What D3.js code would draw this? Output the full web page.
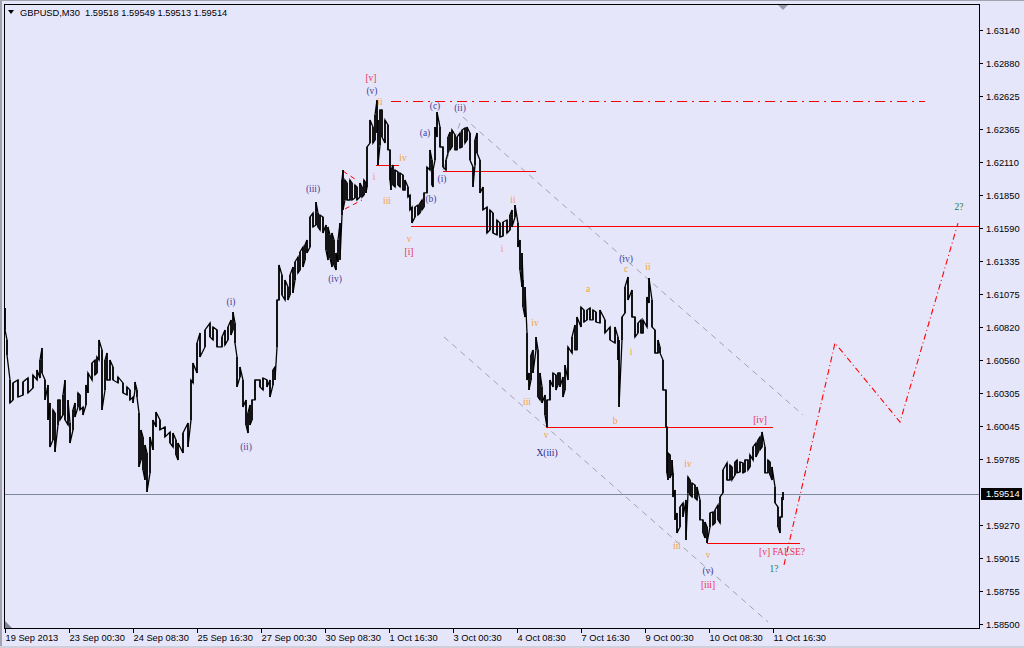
<!DOCTYPE html>
<html><head><meta charset="utf-8">
<script src="https://cdn.jsdelivr.net/npm/d3@7"></script>
<style>html,body{margin:0;padding:0;background:#E6E6FA;}svg{display:block}</style>
</head><body><svg id="c" width="1024" height="648"></svg>
<script>
// ---------- DATA ----------
const symbolTitle = "GBPUSD,M30";
const ohlc = [1.59518, 1.59549, 1.59513, 1.59514];
const lastPrice = 1.59514;

const bars = [
0,2,5,8,13,18,23,28,32,35,
37,40,43,45,48,50,53,55,58,60,
63,65,68,70,73,75,78,81,83,87,
90,92,94,97,100,102,105,108,113,118,
122,125,128,130,132,134,136,138,140,142,
145,148,151,155,160,165,168,171,173,178,
183,186,188,192,195,200,205,208,212,217,
220,223,226,228,230,232,235,238,241,243,
245,247,250,255,258,262,265,268,270,272,
274,277,280,283,285,288,290,293,295,298,
300,302,305,308,311,313,315,318,321,323,
325,327,329,331,333,335,337,338,340,342,
345,347,350,352,355,357,359,361,362,365,
368,370,372,373,375,377,380,383,385,386,
388,390,393,395,398,400,403,405,407,410,
413,415,417,419,422,425,427,428,430,432,
435,438,441,443,445,447,450,452,455,457,
460,462,465,468,470,472,475,478,482,485,
488,492,495,498,502,505,507,510,513,515,
517,518,520,522,524,526,528,531,533,535,
537,540,542,545,548,551,553,555,558,560,
563,567,570,572,576,579,582,585,588,591,
595,600,605,610,613,614,617,620,623,627,
630,633,636,638,642,644,647,650,653,655,
658,661,662,663,665,667,668,670,672,675,
678,681,683,685,687,690,692,695,698,700,
702,705,708,710,713,715,718,722,725,727,
730,732,735,738,740,743,745,748,751,753,
755,757,760,763,765,767,770,773,775,777,778];

const highs = [
1.60969,1.60719,1.60406,1.60383,1.60406,1.60391,1.60422,1.60445,1.60484,1.60562,
1.60656,1.60406,1.60367,1.60227,1.60172,1.60149,1.60250,1.60250,1.60289,1.60406,
1.60250,1.60070,1.60172,1.60227,1.60305,1.60289,1.60195,1.60367,1.60461,1.60539,
1.60562,1.60586,1.60719,1.60641,1.60562,1.60617,1.60562,1.60508,1.60430,1.60383,
1.60352,1.60328,1.60273,1.60391,1.60328,1.60149,1.60016,1.59961,1.59899,1.59836,
1.59961,1.60094,1.60156,1.60094,1.60039,1.60000,1.59992,1.59938,1.59914,1.59992,
1.60070,1.60406,1.60539,1.60695,1.60773,1.60797,1.60851,1.60820,1.60797,1.60742,
1.60797,1.60820,1.60875,1.60937,1.60851,1.60586,1.60508,1.60406,1.60250,1.60149,
1.60211,1.60250,1.60406,1.60406,1.60422,1.60406,1.60406,1.60484,1.60508,1.61031,
1.61304,1.61226,1.61187,1.61133,1.61226,1.61289,1.61328,1.61367,1.61406,1.61445,
1.61461,1.61500,1.61679,1.61711,1.61796,1.61711,1.61695,1.61679,1.61617,1.61601,
1.61539,1.61554,1.61500,1.61398,1.61500,1.61632,1.61968,1.62046,1.61968,1.61945,
1.61968,1.61945,1.61929,1.61914,1.61945,1.61914,1.61968,1.61945,1.62226,1.62437,
1.62382,1.62476,1.62593,1.62437,1.62515,1.62515,1.62437,1.62398,1.62203,1.62046,
1.62085,1.62046,1.62031,1.62023,1.62007,1.61968,1.61914,1.61851,1.61757,1.61757,
1.61773,1.61789,1.61812,1.61867,1.62070,1.62203,1.62124,1.62046,1.62382,1.62499,
1.62382,1.62226,1.62124,1.62304,1.62343,1.62359,1.62320,1.62304,1.62335,1.62359,
1.62374,1.62382,1.62335,1.62070,1.62281,1.62335,1.62124,1.61914,1.61757,1.61734,
1.61711,1.61656,1.61632,1.61640,1.61656,1.61695,1.61734,1.61773,1.61632,1.61500,
1.61398,1.61187,1.61133,1.60773,1.60461,1.60601,1.60641,1.60742,1.60641,1.60461,
1.60352,1.60289,1.60250,1.60406,1.60461,1.60445,1.60461,1.60461,1.60430,1.60523,
1.60664,1.60742,1.60836,1.60898,1.60976,1.60953,1.60953,1.60969,1.60953,1.60937,
1.60953,1.60875,1.60820,1.60820,1.60742,1.60719,1.60898,1.61133,1.61211,1.61109,
1.60898,1.60851,1.60875,1.60875,1.61054,1.61203,1.61031,1.60797,1.60719,1.60664,
1.60562,1.60328,1.60039,1.59836,1.59821,1.59781,1.59680,1.59547,1.59368,1.59414,
1.59446,1.59469,1.59649,1.59625,1.59602,1.59586,1.59571,1.59469,1.59313,1.59297,
1.59258,1.59368,1.59375,1.59391,1.59430,1.59492,1.59703,1.59758,1.59742,1.59727,
1.59766,1.59781,1.59766,1.59758,1.59781,1.59781,1.59821,1.59883,1.59914,1.59938,
1.59961,1.60000,1.59883,1.59781,1.59766,1.59727,1.59571,1.59414,1.59336,1.59492,1.59532];

const lows = [
1.60797,1.60601,1.60227,1.60250,1.60273,1.60289,1.60305,1.60344,1.60406,1.60422,
1.60461,1.60250,1.60094,1.59883,1.59938,1.59844,1.60055,1.60094,1.60133,1.60094,
1.60055,1.59914,1.60016,1.60117,1.60195,1.60172,1.60133,1.60211,1.60305,1.60406,
1.60445,1.60461,1.60562,1.60172,1.60328,1.60406,1.60406,1.60406,1.60383,1.60305,
1.60289,1.60250,1.60227,1.60328,1.60273,1.59727,1.59781,1.59703,1.59625,1.59532,
1.59680,1.59860,1.60039,1.60016,1.59961,1.59914,1.59883,1.59821,1.59781,1.59836,
1.59883,1.60094,1.60383,1.60461,1.60586,1.60664,1.60742,1.60719,1.60664,1.60664,
1.60680,1.60719,1.60758,1.60797,1.60695,1.60352,1.60430,1.60195,1.60055,1.59992,
1.60055,1.60094,1.60250,1.60352,1.60328,1.60352,1.60273,1.60367,1.60406,1.60664,
1.61031,1.61070,1.61031,1.61031,1.61070,1.61086,1.61187,1.61242,1.61265,1.61289,
1.61343,1.61398,1.61445,1.61601,1.61617,1.61601,1.61578,1.61554,1.61421,1.61343,
1.61359,1.61289,1.61304,1.61265,1.61328,1.61343,1.61695,1.61734,1.61812,1.61812,
1.61812,1.61812,1.61828,1.61812,1.61835,1.61835,1.61851,1.61867,1.61914,1.62257,
1.62257,1.62281,1.62335,1.62085,1.62241,1.62304,1.62257,1.62203,1.61968,1.61890,
1.61929,1.61914,1.61929,1.61914,1.61890,1.61890,1.61835,1.61734,1.61632,1.61679,
1.61695,1.61711,1.61734,1.61757,1.61867,1.62046,1.61929,1.61914,1.62124,1.62304,
1.62226,1.62070,1.62046,1.62179,1.62203,1.62226,1.62203,1.62203,1.62218,1.62226,
1.62257,1.62281,1.62124,1.61914,1.62085,1.62179,1.61867,1.61734,1.61554,1.61578,
1.61554,1.61539,1.61523,1.61531,1.61554,1.61578,1.61601,1.61679,1.61445,1.61265,
1.61133,1.60976,1.60898,1.60406,1.60328,1.60406,1.60461,1.60641,1.60273,1.60250,
1.60227,1.60133,1.60039,1.60250,1.60352,1.60328,1.60367,1.60352,1.60273,1.60328,
1.60406,1.60617,1.60641,1.60641,1.60820,1.60859,1.60875,1.60875,1.60875,1.60859,
1.60851,1.60773,1.60719,1.60695,1.60562,1.60195,1.60719,1.60930,1.61031,1.60898,
1.60742,1.60773,1.60773,1.60773,1.60820,1.61008,1.60820,1.60617,1.60617,1.60617,
1.60328,1.60039,1.59680,1.59625,1.59641,1.59680,1.59492,1.59313,1.59211,1.59258,
1.59336,1.59157,1.59524,1.59508,1.59492,1.59485,1.59469,1.59313,1.59211,1.59172,
1.59133,1.59258,1.59274,1.59289,1.59313,1.59289,1.59524,1.59625,1.59625,1.59625,
1.59664,1.59680,1.59688,1.59680,1.59688,1.59703,1.59727,1.59781,1.59805,1.59836,
1.59860,1.59883,1.59680,1.59680,1.59664,1.59625,1.59446,1.59258,1.59211,1.59336,1.59469];

const yTickValues = [1.63140,1.62880,1.62625,1.62365,1.62110,1.61850,1.61590,1.61335,1.61075,
  1.60820,1.60560,1.60305,1.60045,1.59785,1.59270,1.59015,1.58755,1.58500];
const xTickBars = [0,64,128,192,256,320,384,448,512,576,640,704,768];
const xTickLabels = ["19 Sep 2013","23 Sep 00:30","24 Sep 08:30","25 Sep 16:30","27 Sep 00:30",
  "30 Sep 08:30","1 Oct 16:30","3 Oct 00:30","4 Oct 08:30","7 Oct 16:30","9 Oct 00:30",
  "10 Oct 08:30","11 Oct 16:30"];

// horizontal levels (bar range, price)
const levels = [
  {from:386, to:920, price:1.62585, kind:"dashdot"},
  {from:406, to:974, price:1.61609, kind:"solid"},
  {from:371, to:394, price:1.62085, kind:"solid"},
  {from:438, to:531, price:1.62038, kind:"solid"},
  {from:541, to:768, price:1.60039, kind:"solid"},
  {from:702, to:795, price:1.59133, kind:"solid"}
];
// trend / channel lines
const channelLines = [
  {b1:458, p1:1.62460, b2:798, p2:1.60133},
  {b1:438, p1:1.62046, b2:455, p2:1.62413},
  {b1:439, p1:1.60742, b2:763, p2:1.58516}
];
const wedgeLines = [
  {b1:338, p1:1.62038, b2:353, p2:1.61960},
  {b1:340, p1:1.61742, b2:357, p2:1.61812}
];
// projected path
const projBars = [779, 830, 895, 953];
const projPrices = [1.58961, 1.60695, 1.60078, 1.61632];

// wave labels
const waveLabels = [
  {t:"(i)", b:226, p:1.61016, d:"minute"},
  {t:"(ii)", b:241, p:1.59883, d:"minute"},
  {t:"(iii)", b:308, p:1.61898, d:"minute"},
  {t:"(iv)", b:330, p:1.61195, d:"minute"},
  {t:"[v]", b:366, p:1.62765, d:"minor"},
  {t:"(v)", b:367, p:1.62663, d:"minute"},
  {t:"ii", b:375, p:1.62578, d:"minuette"},
  {t:"i", b:369, p:1.61992, d:"minuette"},
  {t:"iii", b:382, p:1.61804, d:"minuette"},
  {t:"iv", b:398, p:1.62140, d:"minuette"},
  {t:"v", b:404, p:1.61507, d:"minuette"},
  {t:"[i]", b:404, p:1.61406, d:"minor"},
  {t:"(a)", b:420, p:1.62335, d:"minute"},
  {t:"(b)", b:426, p:1.61820, d:"minute"},
  {t:"(c)", b:430, p:1.62546, d:"minute"},
  {t:"(i)", b:437, p:1.61976, d:"minute"},
  {t:"(ii)", b:455, p:1.62531, d:"minute"},
  {t:"ii", b:508, p:1.61812, d:"minuette"},
  {t:"i", b:497, p:1.61429, d:"minuette"},
  {t:"iv", b:530, p:1.60851, d:"minuette"},
  {t:"iii", b:522, p:1.60234, d:"minuette"},
  {t:"v", b:541, p:1.59977, d:"minuette"},
  {t:"X(iii)", b:542, p:1.59836, d:"x"},
  {t:"a", b:583, p:1.61117, d:"minuette"},
  {t:"b", b:610, p:1.60086, d:"minuette"},
  {t:"(iv)", b:621, p:1.61351, d:"minute"},
  {t:"c", b:621, p:1.61273, d:"minuette"},
  {t:"ii", b:643, p:1.61289, d:"minuette"},
  {t:"i", b:626, p:1.60625, d:"minuette"},
  {t:"[iv]", b:755, p:1.60094, d:"minor"},
  {t:"iv", b:683, p:1.59750, d:"minuette"},
  {t:"iii", b:672, p:1.59110, d:"minuette"},
  {t:"v", b:703, p:1.59039, d:"minuette"},
  {t:"(v)", b:703, p:1.58915, d:"minute"},
  {t:"[iii]", b:703, p:1.58805, d:"minor"},
  {t:"[v] FALSE?", b:777, p:1.59062, d:"minor"},
  {t:"1?", b:769, p:1.58930, d:"alt"},
  {t:"2?", b:954, p:1.61757, d:"alt"}
];

// ---------- DRAW ----------
const svg = d3.select("#c");
const BG = "#E6E6FA";
const plot = {l:4, t:4, r:979, b:628};
const x = d3.scaleLinear().domain([0, 974]).range([5, 979]);
const y = d3.scaleLinear().domain([1.58500, 1.63140]).range([624, 30]);
const sans = "'Liberation Sans', Arial, sans-serif";
const serif = "'Liberation Serif', 'Times New Roman', serif";
const waveColor = {minor:"#ec3050", minute:"#42429a", minuette:"#f5a23a", alt:"#1f7a3a", x:"#28288a"};

svg.append("rect").attr("width",1024).attr("height",648).attr("fill",BG);
// window frame
svg.append("rect").attr("x",0).attr("y",0).attr("width",2).attr("height",648).attr("fill","#a4a4b0");
svg.append("rect").attr("x",0).attr("y",0).attr("width",1024).attr("height",1).attr("fill","#a4a4b0");
svg.append("rect").attr("x",0).attr("y",646).attr("width",1024).attr("height",2).attr("fill","#d0d0dc");

svg.append("clipPath").attr("id","clip").append("rect")
  .attr("x",plot.l+1).attr("y",plot.t+1).attr("width",plot.r-plot.l-1).attr("height",plot.b-plot.t-1);
const g = svg.append("g").attr("clip-path","url(#clip)");

// current price line
g.append("line").attr("x1",plot.l).attr("x2",plot.r)
  .attr("y1",Math.round(y(lastPrice))+0.5).attr("y2",Math.round(y(lastPrice))+0.5)
  .attr("stroke","#7c889c").attr("stroke-width",1);

// channel lines
g.selectAll(".ch").data(channelLines).enter().append("line")
  .attr("x1",d=>x(d.b1)).attr("y1",d=>y(d.p1)).attr("x2",d=>x(d.b2)).attr("y2",d=>y(d.p2))
  .attr("stroke","#a2a2ae").attr("stroke-width",1).attr("stroke-dasharray","6,5");

// levels
g.selectAll(".lv").data(levels).enter().append("line")
  .attr("x1",d=>x(d.from)).attr("x2",d=>x(d.to))
  .attr("y1",d=>Math.round(y(d.price))+0.5).attr("y2",d=>Math.round(y(d.price))+0.5)
  .attr("stroke","#ff0000").attr("stroke-width",1)
  .attr("stroke-dasharray",d=>d.kind==="dashdot"?"10,5,2,5":null);

g.selectAll(".wd").data(wedgeLines).enter().append("line")
  .attr("x1",d=>x(d.b1)).attr("y1",d=>y(d.p1)).attr("x2",d=>x(d.b2)).attr("y2",d=>y(d.p2))
  .attr("stroke","#ff0000").attr("stroke-width",1).attr("stroke-dasharray","5,4");

// price trace
const pts = [];
bars.forEach((b,i)=>{
  const hi=[x(b),y(highs[i])], lo=[x(b),y(lows[i])];
  if(!pts.length){pts.push(hi,lo);return;}
  const last=pts[pts.length-1][1];
  if(Math.abs(last-hi[1])<Math.abs(last-lo[1])) pts.push(hi,lo); else pts.push(lo,hi);
});
g.append("path").attr("d",d3.line()(pts)).attr("fill","none")
  .attr("stroke","#000").attr("stroke-width",1.3).attr("stroke-linejoin","miter");
g.selectAll(".bar").data(bars).enter().append("line")
  .attr("x1",d=>x(d)).attr("x2",d=>x(d))
  .attr("y1",(d,i)=>y(highs[i])).attr("y2",(d,i)=>y(lows[i]))
  .attr("stroke","#000").attr("stroke-width",1.5);

// projection
g.append("path").attr("d",d3.line()(projBars.map((b,i)=>[x(b),y(projPrices[i])])))
  .attr("fill","none").attr("stroke","#ff0000").attr("stroke-width",1.1)
  .attr("stroke-dasharray","6,3,1,3");

// wave labels
g.selectAll(".wl").data(waveLabels).enter().append("text")
  .attr("x",d=>x(d.b)).attr("y",d=>y(d.p)).attr("dy","0.35em")
  .attr("text-anchor","middle").attr("font-family",serif).attr("font-size",9.5)
  .attr("fill",d=>waveColor[d.d]).text(d=>d.t);

// plot border
svg.append("rect").attr("x",plot.l+0.5).attr("y",plot.t+0.5)
  .attr("width",plot.r-plot.l).attr("height",plot.b-plot.t)
  .attr("fill","none").attr("stroke","#000").attr("stroke-width",1);

// shift marker and corner marker
svg.append("path").attr("d",`M${x(773)},5 L${x(783)},5 L${x(778)},10 Z`).attr("fill","#9a9aa6");
svg.append("path").attr("d",`M5,621 L5,628 L12,628 Z`).attr("fill","#7a8494");

// y axis
const yAx = svg.append("g");
yTickValues.forEach(v=>{
  const yy = Math.round(y(v))+0.5;
  yAx.append("line").attr("x1",plot.r).attr("x2",plot.r+4).attr("y1",yy).attr("y2",yy).attr("stroke","#000");
  yAx.append("text").attr("x",plot.r+7).attr("y",yy).attr("dy","0.35em")
    .attr("font-family",sans).attr("font-size",9.3).attr("fill","#000").text(v.toFixed(5));
});
// current price tag
const ly = Math.round(y(lastPrice));
svg.append("rect").attr("x",plot.r+2).attr("y",ly-6).attr("width",41).attr("height",12).attr("fill","#000");
svg.append("text").attr("x",plot.r+7).attr("y",ly).attr("dy","0.35em")
  .attr("font-family",sans).attr("font-size",9.3).attr("fill","#fff").text(lastPrice.toFixed(5));

// x axis
const xAx = svg.append("g");
xTickBars.forEach((b,i)=>{
  const xx = Math.round(x(b))+0.5;
  xAx.append("line").attr("x1",xx).attr("x2",xx).attr("y1",plot.b).attr("y2",plot.b+5).attr("stroke","#000");
  xAx.append("text").attr("x",xx).attr("y",641).attr("font-family",sans).attr("font-size",9.3)
    .attr("fill","#000").text(xTickLabels[i]);
});

// header
svg.append("path").attr("d","M8,10 L14,10 L11,14 Z").attr("fill","#000");
svg.append("text").attr("x",20).attr("y",16).attr("font-family",sans).attr("font-size",9.3)
  .attr("fill","#000").style("white-space","pre")
  .text(symbolTitle + "  " + ohlc.map(v=>v.toFixed(5)).join(" "));
</script></body></html>
